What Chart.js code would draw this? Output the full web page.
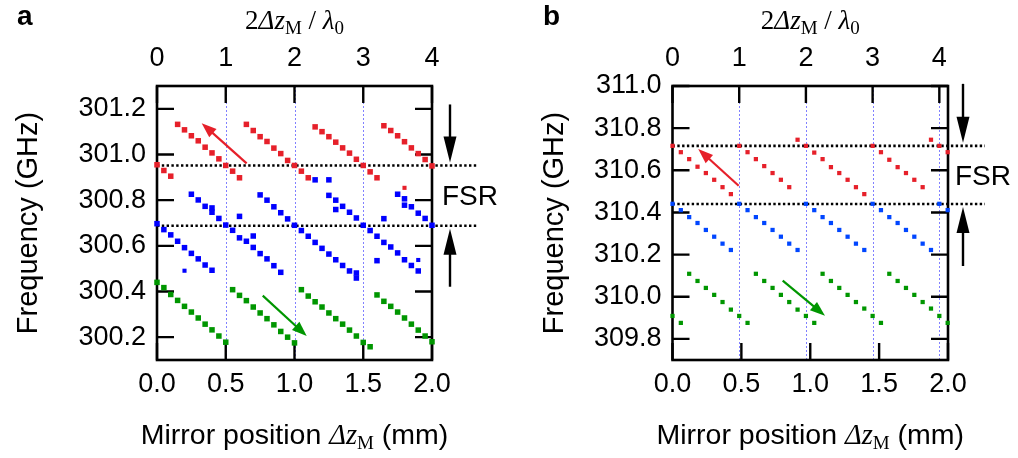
<!DOCTYPE html>
<html>
<head>
<meta charset="utf-8">
<script src="https://cdn.jsdelivr.net/npm/chart.js@4.4.1/dist/chart.umd.min.js"></script>
<style>
  html, body { margin: 0; padding: 0; background: #fff; }
  #wrap { position: relative; width: 1018px; height: 458px; overflow: hidden; }
  canvas { position: absolute; top: 0; }
  #panelA { left: 0; }
  #panelB { left: 509px; }
</style>
</head>
<body>
<div id="wrap">
  <canvas id="panelA" width="509" height="458" style="width:509px;height:458px"></canvas>
  <canvas id="panelB" width="509" height="458" style="width:509px;height:458px"></canvas>
</div>
<script>
const SANS = "'Liberation Sans', Arial, Helvetica, sans-serif";
const SERIF = "'Liberation Serif', 'Times New Roman', serif";
const RED = '#e6202a';
const BLUE_A = '#0000ff';
const BLUE_B = '#0046ff';
const GREEN = '#009600';

// ---------- panel a: mirror position (mm) vs. mode frequency (GHz) ----------
const redA = [
  [0.00,300.955],[0.05,300.930],[0.10,300.905],
  [0.15,301.132],[0.20,301.108],[0.25,301.082],[0.30,301.060],[0.35,301.032],[0.40,301.007],[0.45,300.981],[0.50,300.952],[0.55,300.927],[0.60,300.898],
  [0.65,301.132],[0.70,301.105],[0.75,301.078],[0.80,301.057],[0.85,301.028],[0.90,301.004],[0.95,300.974],[1.00,300.952],[1.05,300.927],[1.10,300.898],
  [1.15,301.121],[1.20,301.100],[1.25,301.078],[1.30,301.054],[1.35,301.029],[1.40,301.006],[1.45,300.979],[1.50,300.952],[1.55,300.924],[1.60,300.898],
  [1.65,301.126],[1.70,301.105],[1.75,301.082],[1.80,301.056],[1.85,301.029],[1.90,301.004],[1.95,300.978],[2.00,300.950]
];
const redSmallA = [[1.80,300.854]];
const blueA = [
  [0.00,300.697],[0.05,300.671],[0.10,300.648],[0.15,300.620],[0.20,300.592],[0.25,300.567],[0.30,300.543],[0.35,300.516],[0.40,300.493],
  [0.25,300.826],[0.30,300.801],[0.35,300.773],[0.40,300.766],[0.40,300.747],[0.45,300.720],[0.50,300.691],
  [0.55,300.668],[0.60,300.635],[0.60,300.729],[0.65,300.620],[0.70,300.643],[0.70,300.593],[0.75,300.566],[0.80,300.543],[0.85,300.513],[0.90,300.484],
  [0.75,300.823],[0.80,300.800],[0.85,300.771],[0.90,300.745],[0.95,300.718],[1.00,300.690],
  [1.05,300.667],[1.10,300.642],[1.15,300.615],[1.20,300.589],[1.25,300.564],[1.30,300.539],[1.35,300.514],[1.40,300.490],[1.45,300.481],[1.45,300.459],
  [1.15,300.889],[1.25,300.889],[1.25,300.821],[1.30,300.800],[1.30,300.759],[1.35,300.773],[1.40,300.747],[1.45,300.722],[1.50,300.690],
  [1.55,300.667],[1.60,300.642],[1.60,300.535],[1.65,300.615],[1.65,300.719],[1.70,300.595],[1.75,300.569],[1.80,300.539],[1.85,300.514],[1.90,300.490],
  [1.75,300.826],[1.80,300.806],[1.80,300.778],[1.85,300.771],[1.90,300.743],[1.95,300.720],[2.00,300.690]
];
const blueSmallA = [[0.20,300.491],[1.90,300.538]];
const greenA = [
  [0.00,300.440],[0.05,300.417],[0.10,300.387],[0.15,300.361],[0.20,300.335],[0.25,300.310],[0.30,300.284],[0.35,300.257],[0.40,300.232],[0.45,300.205],[0.50,300.178],
  [0.55,300.408],[0.60,300.383],[0.65,300.360],[0.70,300.332],[0.75,300.306],[0.80,300.281],[0.85,300.254],[0.90,300.225],[0.95,300.200],[1.00,300.175],
  [1.05,300.408],[1.10,300.380],[1.15,300.355],[1.20,300.332],[1.25,300.306],[1.30,300.281],[1.35,300.257],[1.40,300.231],[1.45,300.205],[1.50,300.177],[1.55,300.158],
  [1.60,300.385],[1.65,300.357],[1.70,300.335],[1.75,300.310],[1.80,300.284],[1.85,300.257],[1.90,300.231],[1.95,300.205],[2.00,300.180]
];
const yTicksA = [300.2, 300.4, 300.6, 300.8, 301.0, 301.2];
const fsrLevelsA = [300.952, 300.688];
const arrowsA = [
  { from: [0.652, 300.961], to: [0.325, 301.137], color: RED },
  { from: [0.769, 300.382], to: [1.089, 300.205], color: GREEN }
];

// ---------- panel b ----------
const redB = [
  [0.0000,310.716],[0.0625,310.686],[0.1250,310.653],[0.1875,310.617],[0.2500,310.587],[0.3125,310.555],[0.3750,310.520],[0.4375,310.487],
  [0.5000,310.716],[0.5625,310.686],[0.6250,310.653],[0.6875,310.620],[0.7500,310.587],[0.8125,310.555],[0.8750,310.520],[0.9375,310.745],
  [1.0000,310.716],[1.0625,310.684],[1.1250,310.653],[1.1875,310.615],[1.2500,310.587],[1.3125,310.555],[1.3750,310.520],[1.4375,310.487],
  [1.5000,310.716],[1.5625,310.686],[1.6250,310.650],[1.6875,310.615],[1.7500,310.587],[1.8125,310.555],[1.8750,310.520],[1.9375,310.745],
  [2.0000,310.716],[2.0625,310.686]
];
const blueB = [
  [0.0000,310.441],[0.0625,310.411],[0.1250,310.378],[0.1875,310.350],[0.2500,310.317],[0.3125,310.285],[0.3750,310.252],[0.4375,310.222],
  [0.5000,310.441],[0.5625,310.411],[0.6250,310.378],[0.6875,310.350],[0.7500,310.317],[0.8125,310.285],[0.8750,310.252],[0.9375,310.222],
  [1.0000,310.441],[1.0625,310.411],[1.1250,310.378],[1.1875,310.350],[1.2500,310.317],[1.3125,310.285],[1.3750,310.252],[1.4375,310.222],
  [1.5000,310.441],[1.5625,310.411],[1.6250,310.378],[1.6875,310.350],[1.7500,310.317],[1.8125,310.285],[1.8750,310.252],[1.9375,310.222],
  [2.0000,310.441],[2.0625,310.411]
];
const greenB = [
  [0.0000,309.909],[0.0625,309.876],[0.1250,310.109],[0.1875,310.075],[0.2500,310.042],[0.3125,310.009],[0.3750,309.975],[0.4375,309.939],
  [0.5000,309.909],[0.5625,309.876],[0.6250,310.109],[0.6875,310.075],[0.7500,310.042],[0.8125,310.009],[0.8750,309.975],[0.9375,309.939],
  [1.0000,309.909],[1.0625,309.876],[1.1250,310.109],[1.1875,310.075],[1.2500,310.042],[1.3125,310.009],[1.3750,309.975],[1.4375,309.944],
  [1.5000,309.909],[1.5625,309.876],[1.6250,310.109],[1.6875,310.075],[1.7500,310.042],[1.8125,310.009],[1.8750,309.975],[1.9375,309.944],
  [2.0000,309.909],[2.0625,309.876]
];
const yTicksB = [309.8, 310.0, 310.2, 310.4, 310.6, 310.8, 311.0];
const fsrLevelsB = [310.716, 310.440];
const arrowsB = [
  { from: [0.496, 310.527], to: [0.193, 310.701], color: RED },
  { from: [0.826, 310.077], to: [1.143, 309.910], color: GREEN }
];

// shared tick values
const topTicks = [0, 1, 2, 3, 4];          // 2Δz_M / λ0
const bottomTicks = [0, 0.5, 1.0, 1.5, 2.0]; // Δz_M in mm
const modeLines = [0.5, 1.0, 1.5, 2.0];      // Δz_M where 2Δz_M/λ0 is an integer

// ---------- drawing helpers ----------
function drawArrow(ctx, x0, y0, x1, y1, color, lw, headLen, headW) {
  const ang = Math.atan2(y1 - y0, x1 - x0);
  const bx = x1 - headLen * Math.cos(ang), by = y1 - headLen * Math.sin(ang);
  ctx.save();
  ctx.strokeStyle = color; ctx.fillStyle = color; ctx.lineWidth = lw; ctx.setLineDash([]);
  ctx.beginPath(); ctx.moveTo(x0, y0); ctx.lineTo(bx + 2 * Math.cos(ang), by + 2 * Math.sin(ang)); ctx.stroke();
  const nx = -Math.sin(ang) * headW / 2, ny = Math.cos(ang) * headW / 2;
  ctx.beginPath(); ctx.moveTo(x1, y1); ctx.lineTo(bx + nx, by + ny); ctx.lineTo(bx - nx, by - ny); ctx.closePath(); ctx.fill();
  ctx.restore();
}

function drawRich(ctx, parts, cx, baseline) {
  let w = 0;
  parts.forEach(p => { ctx.font = p.font; w += ctx.measureText(p.t).width; });
  let x = cx - w / 2;
  ctx.textAlign = 'left'; ctx.textBaseline = 'alphabetic'; ctx.fillStyle = '#000';
  parts.forEach(p => { ctx.font = p.font; ctx.fillText(p.t, x, baseline + (p.dy || 0)); x += ctx.measureText(p.t).width; });
}

const topTitle = [
  { t: '2', font: `27px ${SERIF}` },
  { t: 'Δz', font: `italic 27px ${SERIF}` },
  { t: 'M', font: `19px ${SERIF}`, dy: 5 },
  { t: ' / ', font: `27px ${SERIF}` },
  { t: 'λ', font: `italic 27px ${SERIF}` },
  { t: '0', font: `19px ${SERIF}`, dy: 5 }
];
const bottomTitle = [
  { t: 'Mirror position ', font: `28.5px ${SANS}` },
  { t: 'Δz', font: `italic 28.5px ${SERIF}` },
  { t: 'M', font: `19px ${SERIF}`, dy: 5 },
  { t: ' (mm)', font: `28.5px ${SANS}` }
];

// frame, inward ticks, reference lines, arrows and titles
const panelDecor = {
  id: 'panelDecor',
  beforeDatasetsDraw(chart, _args, o) {
    const { ctx, chartArea: a, scales: { x, y, xTop, xBot } } = chart;
    ctx.save();
    ctx.strokeStyle = '#8080ff'; ctx.lineWidth = 1; ctx.setLineDash([2, 2]);
    o.vLines.forEach(v => {
      const px = Math.round(x.getPixelForValue(v)) + 0.5;
      ctx.beginPath(); ctx.moveTo(px, a.top); ctx.lineTo(px, a.bottom); ctx.stroke();
    });
    ctx.setLineDash([]); ctx.strokeStyle = '#000'; ctx.lineWidth = 2.6;
    ctx.strokeRect(a.left, a.top, a.right - a.left, a.bottom - a.top);
    const L = 17;
    ctx.lineWidth = 2.4;
    ctx.beginPath();
    y.ticks.forEach(t => {
      const py = y.getPixelForValue(t.value);
      ctx.moveTo(a.left, py); ctx.lineTo(a.left + L, py);
      ctx.moveTo(a.right, py); ctx.lineTo(a.right - L, py);
    });
    xTop.ticks.forEach(t => {
      const px = xTop.getPixelForValue(t.value);
      ctx.moveTo(px, a.top); ctx.lineTo(px, a.top + L);
    });
    xBot.ticks.forEach(t => {
      const px = xBot.getPixelForValue(t.value);
      ctx.moveTo(px, a.bottom); ctx.lineTo(px, a.bottom - L);
    });
    ctx.stroke();
    ctx.setLineDash([2.4, 2.4]); ctx.lineWidth = 2.6;
    o.hLines.forEach(v => {
      const py = y.getPixelForValue(v);
      ctx.beginPath(); ctx.moveTo(a.left, py); ctx.lineTo(a.right + o.hExt, py); ctx.stroke();
    });
    ctx.restore();
  },
  afterDatasetsDraw(chart, _args, o) {
    const { ctx, chartArea: a, scales: { x, y } } = chart;
    ctx.save();
    o.arrows.forEach(ar => drawArrow(ctx,
      x.getPixelForValue(ar.from[0]), y.getPixelForValue(ar.from[1]),
      x.getPixelForValue(ar.to[0]), y.getPixelForValue(ar.to[1]),
      ar.color, 2.2, 15, 11));
    const ax = a.right + o.fsrDx;
    const hi = y.getPixelForValue(o.hLines[0]);
    const lo = y.getPixelForValue(o.hLines[1]);
    drawArrow(ctx, ax, hi - o.fsrLen, ax, hi - 3, '#000', 2.4, 26, 13);
    drawArrow(ctx, ax, lo + o.fsrLen, ax, lo + 3, '#000', 2.4, 26, 13);
    ctx.fillStyle = '#000'; ctx.font = `28px ${SANS}`;
    ctx.textAlign = 'left'; ctx.textBaseline = 'middle';
    ctx.fillText('FSR', a.right + o.fsrTextDx, (hi + lo) / 2 + 2);
    const cx = (a.left + a.right) / 2;
    drawRich(ctx, topTitle, cx, 29);
    drawRich(ctx, bottomTitle, cx, 444);
    ctx.font = `bold 28px ${SANS}`; ctx.textAlign = 'left'; ctx.textBaseline = 'alphabetic';
    ctx.fillText(o.tag, o.tagX, 25);
    ctx.restore();
  }
};

function pts(arr) { return arr.map(([x, y]) => ({ x, y })); }

function makePanel(id, p) {
  const tickFont = { family: SANS, size: 27 };
  return new Chart(document.getElementById(id), {
    type: 'scatter',
    data: {
      datasets: p.series.map(s => ({
        data: pts(s.data), backgroundColor: s.color, borderWidth: 0,
        pointStyle: 'rect', pointRadius: s.r, pointHoverRadius: s.r, clip: false
      }))
    },
    options: {
      responsive: false, animation: false, events: [],
      layout: { padding: { left: 0, right: p.padRight, top: 0, bottom: 0 } },
      plugins: { legend: { display: false }, tooltip: { enabled: false }, panelDecor: p.decor },
      scales: {
        x: { type: 'linear', display: false, min: 0, max: p.xMax },
        xTop: {
          type: 'linear', position: 'top', min: 0, max: p.topMax,
          grid: { display: false, drawTicks: false }, border: { display: false },
          afterBuildTicks: s => { s.ticks = topTicks.map(v => ({ value: v })); },
          afterFit: s => { s.height = 86; },
          ticks: { font: tickFont, color: '#000', padding: 11, maxRotation: 0, autoSkip: false, callback: v => String(v) }
        },
        xBot: {
          type: 'linear', position: 'bottom', min: 0, max: 2,
          grid: { display: false, drawTicks: false }, border: { display: false },
          afterBuildTicks: s => { s.ticks = bottomTicks.map(v => ({ value: v })); },
          afterFit: s => { s.height = 98; },
          ticks: { font: tickFont, color: '#000', padding: 8, maxRotation: 0, autoSkip: false, callback: v => v.toFixed(1) }
        },
        y: {
          type: 'linear', position: 'left', min: p.yMin, max: p.yMax,
          grid: { display: false, drawTicks: false }, border: { display: false },
          afterBuildTicks: s => { s.ticks = p.yTicks.map(v => ({ value: v })); },
          afterFit: s => { s.width = p.yWidth; },
          ticks: { font: tickFont, color: '#000', padding: 11, autoSkip: false, callback: v => v.toFixed(1) },
          title: { display: true, text: 'Frequency (GHz)', color: '#000', font: { family: SANS, size: 29 }, padding: { top: p.titlePad, bottom: 0 } }
        }
      }
    },
    plugins: [panelDecor]
  });
}

makePanel('panelA', {
  xMax: 2.0, topMax: 4.0, yMin: 300.1, yMax: 301.3, yTicks: yTicksA,
  yWidth: 157, padRight: 77, titlePad: 12,
  series: [
    { data: redA, color: RED, r: 3.9 },
    { data: redSmallA, color: RED, r: 2.9 },
    { data: blueA, color: BLUE_A, r: 3.9 },
    { data: blueSmallA, color: BLUE_A, r: 2.9 },
    { data: greenA, color: GREEN, r: 3.9 }
  ],
  decor: { vLines: modeLines, hLines: fsrLevelsA, hExt: 45, arrows: arrowsA, fsrDx: 18, fsrLen: 61, fsrTextDx: 10, tag: 'a', tagX: 17 }
});

makePanel('panelB', {
  xMax: 2.065, topMax: 4.13, yMin: 309.7, yMax: 311.0, yTicks: yTicksB,
  yWidth: 163.5, padRight: 70, titlePad: 29,
  series: [
    { data: redB, color: RED, r: 3.0 },
    { data: blueB, color: BLUE_B, r: 3.0 },
    { data: greenB, color: GREEN, r: 3.0 }
  ],
  decor: { vLines: modeLines, hLines: fsrLevelsB, hExt: 37, arrows: arrowsB, fsrDx: 15, fsrLen: 62, fsrTextDx: 7, tag: 'b', tagX: 34 }
});
</script>
</body>
</html>
